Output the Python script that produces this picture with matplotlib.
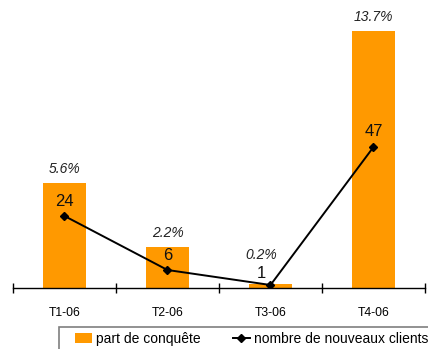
import matplotlib
matplotlib.use("Agg")
import matplotlib.pyplot as plt
from matplotlib.patches import Patch, Rectangle
from matplotlib.lines import Line2D

plt.rcParams['font.family'] = ['Liberation Sans', 'DejaVu Sans']

categories = ["T1-06", "T2-06", "T3-06", "T4-06"]
part_conquete = [5.6, 2.2, 0.2, 13.7]
part_labels = ["5.6%", "2.2%", "0.2%", "13.7%"]
nouveaux_clients = [24, 6, 1, 47]

# label offsets in pixels (styling only)
pct_offsets = [(0, 14), (0, 14), (-9, 29), (0, 14)]
num_offsets = [(0, 15), (0, 15), (-9, 12), (0, 15)]

W, H = 428, 349
fig = plt.figure(figsize=(W / 100, H / 100), dpi=100)
ax = fig.add_axes([13 / W, (H - 288) / H, (425 - 13) / W, 288 / H])
ax2 = ax.twinx()

x = list(range(len(categories)))
bar_color = "#FF9900"
ax.bar(x, part_conquete, width=0.41, color=bar_color, zorder=2)
ax.set_xlim(-0.5, 3.5)
ax.set_ylim(0, 15.34)
ax.set_yticks([])
for s in ["top", "left", "right"]:
    ax.spines[s].set_visible(False)
ax.spines["bottom"].set_color("black")
ax.spines["bottom"].set_linewidth(1.0)
ax.set_xticks([-0.5, 0.5, 1.5, 2.5, 3.5])
ax.set_xticklabels([])
ax.set_xticks(x, minor=True)
ax.set_xticklabels(categories, minor=True, fontsize=8.8)
ax.tick_params(axis="x", which="major", direction="inout", length=7.5, width=1.0, color="black")
ax.tick_params(axis="x", which="minor", length=0, pad=14)

for xi, v, lab, off in zip(x, part_conquete, part_labels, pct_offsets):
    ax.annotate(lab, (xi, v), xytext=off, textcoords="offset pixels",
                ha="center", va="center", fontsize=10, style="italic", color="#222222")

ax2.plot(x, nouveaux_clients, color="black", linewidth=1.4, marker="D", markersize=4.5, zorder=3)
ax2.set_ylim(0, 96)
ax2.set_yticks([])
for s in ["top", "left", "right", "bottom"]:
    ax2.spines[s].set_visible(False)
for xi, v, off in zip(x, nouveaux_clients, num_offsets):
    ax2.annotate(str(v), (xi, v), xytext=off, textcoords="offset pixels",
                 ha="center", va="center", fontsize=12, color="#111111")

# legend frame (extends past the figure edge, as in the reference)
fig.patches.append(Rectangle((58.5 / W, -10 / H), 400 / W, (22 + 10) / H,
                             transform=fig.transFigure, facecolor="white",
                             edgecolor="#7F7F7F", linewidth=1.2, zorder=0))

handles = [Patch(facecolor=bar_color, edgecolor="none", label="part de conquête"),
           Line2D([0], [0], color="black", linewidth=1.4, marker="D", markersize=4,
                  label="nombre de nouveaux clients")]
leg = fig.legend(handles=handles, loc="center left", bbox_to_anchor=(75 / W, 1 - 339 / H),
                 ncol=2, frameon=False, fontsize=10,
                 handlelength=1.2, handleheight=0.8, handletextpad=0.3,
                 columnspacing=2.35, borderaxespad=0, borderpad=0)

fig.savefig("out.png", dpi=100)
